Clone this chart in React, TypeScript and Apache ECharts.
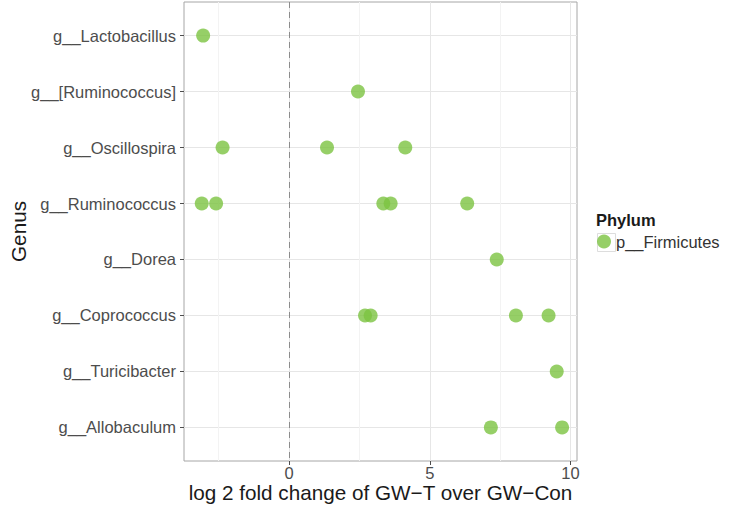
import React, { useEffect, useRef } from "react";
import * as echarts from "echarts";

// Genus categories, top to bottom
const genera = [
  "g__Lactobacillus",
  "g__[Ruminococcus]",
  "g__Oscillospira",
  "g__Ruminococcus",
  "g__Dorea",
  "g__Coprococcus",
  "g__Turicibacter",
  "g__Allobaculum",
];

// log2 fold change points: [genus, value]
const pointGenus = [
  "g__Lactobacillus",
  "g__[Ruminococcus]",
  "g__Oscillospira", "g__Oscillospira", "g__Oscillospira",
  "g__Ruminococcus", "g__Ruminococcus", "g__Ruminococcus", "g__Ruminococcus", "g__Ruminococcus",
  "g__Dorea",
  "g__Coprococcus", "g__Coprococcus", "g__Coprococcus", "g__Coprococcus",
  "g__Turicibacter",
  "g__Allobaculum", "g__Allobaculum",
];
const pointValue = [
  -3.05,
  2.45,
  -2.36, 1.35, 4.13,
  -3.1, -2.59, 3.35, 3.61, 6.33,
  7.38,
  2.7, 2.9, 8.06, 9.22,
  9.51,
  7.17, 9.7,
];

const xMajorTicks = [0, 5, 10];
const xMinorTicks = [-2.5, 2.5, 7.5];
const xRange = [-3.73, 10.23];

const phylum = "p__Firmicutes";

export default function App() {
  const ref = useRef<HTMLDivElement>(null);
  useEffect(() => {
    if (!ref.current) return;
    const chart = echarts.init(ref.current, null, { renderer: "svg" });
    const yTicks = genera.map((_, i) => i + 1);
    const data = pointValue.map((v, i) => [v, genera.indexOf(pointGenus[i]) + 1]);
    const font = "Liberation Sans, Arial, sans-serif";
    chart.setOption({
      animation: false,
      backgroundColor: "#ffffff",
      textStyle: { fontFamily: font },
      grid: {
        left: 184,
        right: 172,
        top: 2,
        bottom: 49,
        show: true,
        borderColor: "#a6a6a6",
        borderWidth: 1,
        backgroundColor: "#ffffff",
        containLabel: false,
        outerBoundsMode: "none",
      },
      xAxis: [
        {
          type: "value",
          min: xRange[0],
          max: xRange[1],
          position: "bottom",
          axisLine: { show: false, onZero: false },
          axisTick: {
            show: true,
            length: 4,
            customValues: xMajorTicks,
            lineStyle: { color: "#4d4d4d" },
          },
          axisLabel: {
            customValues: xMajorTicks,
            fontSize: 16.5,
            color: "#4d4d4d",
            margin: 4,
            lineHeight: 16,
            fontFamily: font,
          },
          splitLine: { show: true, lineStyle: { color: "#e6e6e6", width: 1 } },
          name: "log 2 fold change of GW\u2212T over GW\u2212Con",
          nameLocation: "middle",
          nameGap: 21,
          nameMoveOverlap: false,
          nameTextStyle: { fontSize: 20.7, lineHeight: 21, color: "#1a1a1a", fontFamily: font },
        },
        {
          type: "value",
          min: xRange[0],
          max: xRange[1],
          position: "top",
          axisLine: { show: false, onZero: false },
          axisTick: { show: false, customValues: xMinorTicks },
          axisLabel: { show: false, customValues: xMinorTicks },
          splitLine: { show: true, lineStyle: { color: "#f3f3f3", width: 1 } },
        },
      ],
      yAxis: {
        type: "value",
        min: 0.4,
        max: 8.6,
        inverse: true,
        axisLine: { show: false, onZero: false },
        axisTick: {
          show: true,
          length: 4,
          customValues: yTicks,
          lineStyle: { color: "#4d4d4d" },
        },
        axisLabel: {
          customValues: yTicks,
          fontSize: 16.5,
          color: "#4d4d4d",
          margin: 8,
          fontFamily: font,
          formatter: (v: number) => genera[Math.round(v) - 1] ?? "",
        },
        splitLine: { show: true, lineStyle: { color: "#e6e6e6", width: 1 } },
        name: "Genus",
        nameLocation: "middle",
        nameGap: 155,
        nameMoveOverlap: false,
        nameTextStyle: { fontSize: 20.7, color: "#1a1a1a", fontFamily: font },
      },
      legend: {
        show: true,
        left: 592,
        top: 228,
        icon: "circle",
        itemWidth: 14,
        itemHeight: 14,
        itemGap: 5,
        textStyle: { fontSize: 16.5, color: "#333333", fontFamily: font },
        data: [phylum],
      },
      graphic: [
        {
          type: "rect",
          left: 595,
          top: 231,
          shape: { width: 18, height: 18 },
          style: { fill: "none", stroke: "#dddddd", lineWidth: 1 },
          z: -1,
        },
        {
          type: "text",
          left: 596,
          top: 211,
          style: { text: "Phylum", fontSize: 16.5, fontWeight: "bold", fill: "#1a1a1a", fontFamily: font },
        },
      ],
      series: [
        {
          name: phylum,
          type: "scatter",
          xAxisIndex: 0,
          symbol: "circle",
          symbolSize: 14,
          itemStyle: { color: "#7cc341", opacity: 0.8 },
          data,
          markLine: {
            silent: true,
            symbol: "none",
            label: { show: false },
            lineStyle: { color: "#8c8c8c", type: [6, 4], width: 1 },
            data: [{ xAxis: 0 }],
          },
        },
      ],
    });
    return () => chart.dispose();
  }, []);
  return <div ref={ref} style={{ width: 749, height: 510, position: "absolute", left: 0, top: 0 }} />;
}
